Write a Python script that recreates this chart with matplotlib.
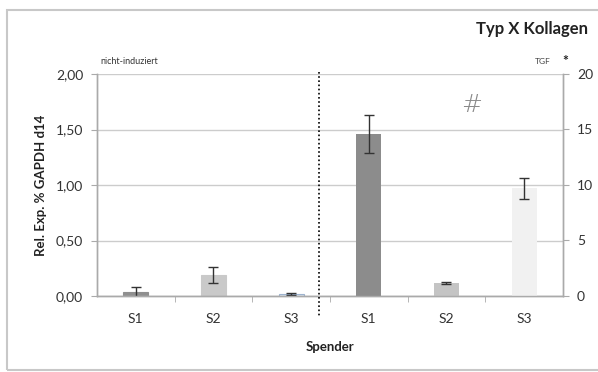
import matplotlib.pyplot as plt
from matplotlib.patches import Rectangle
from matplotlib.lines import Line2D
import numpy as np

plt.rcParams['font.family'] = ['Lato', 'DejaVu Sans']

spender = ['S1', 'S2', 'S3', 'S1', 'S2', 'S3']

# nicht-induziert (left axis, 0-2)
ni_values = [0.04, 0.19, 0.015]
ni_err = [0.045, 0.075, 0.01]
# TGF (right axis, 0-20)
tgf_values = [14.6, 1.17, 9.7]
tgf_err = [1.7, 0.1, 0.95]

left_ticks = [0, 0.5, 1.0, 1.5, 2.0]
left_labels = ['0,00', '0,50', '1,00', '1,50', '2,00']
right_ticks = [0, 5, 10, 15, 20]

ni_colors = ['#8f8f8f', '#c9c9c9', '#dfe7f1']
ni_edges = ['#8f8f8f', '#c9c9c9', '#9db3cf']
tgf_colors = ['#8c8c8c', '#c4c4c4', '#f1f1f1']

fig = plt.figure(figsize=(5.98, 3.72), dpi=100)
fig.patches.append(Rectangle((7 / 598, 2 / 372), 1.0, 360 / 372, transform=fig.transFigure,
                             fill=False, edgecolor='#c8c8c8', linewidth=1.5))

ax = fig.add_axes([97 / 598, 1 - 296 / 372, 466 / 598, 222 / 372])
ax2 = ax.twinx()

x = np.arange(6)
w = 0.32
ax.bar(x[:3], ni_values, w, color=ni_colors, edgecolor=ni_edges, linewidth=0.8, zorder=2)
ax.errorbar(x[:3], ni_values, yerr=ni_err, fmt='none', ecolor='#333333',
            elinewidth=1, capsize=3.5, capthick=1, zorder=3)
ax2.bar(x[3:], tgf_values, w, color=tgf_colors, zorder=2)
ax2.errorbar(x[3:], tgf_values, yerr=tgf_err, fmt='none', ecolor='#333333',
             elinewidth=1, capsize=3.5, capthick=1, zorder=3)

ax.set_xlim(-0.5, 5.5)
ax.set_ylim(0, 2)
ax2.set_ylim(0, 20)

ax.set_yticks(left_ticks)
ax.set_yticklabels(left_labels)
ax2.set_yticks(right_ticks)
ax.yaxis.grid(True, color='#cccccc', linewidth=1, zorder=0)
ax.set_axisbelow(True)

ax.set_xticks(x)
ax.set_xticklabels(spender)
ax.set_xticks(np.arange(0.5, 5.5, 1), minor=True)
ax.tick_params(axis='x', which='major', length=0, pad=12, labelsize=10, labelcolor='#333333')
ax.tick_params(axis='x', which='minor', length=4, color='#aaaaaa', direction='out')
ax.tick_params(axis='y', length=4, color='#aaaaaa', labelsize=10, labelcolor='#333333', pad=6)
ax2.tick_params(axis='y', length=4, color='#aaaaaa', labelsize=10, labelcolor='#333333', pad=6)

for a in (ax, ax2):
    a.spines['top'].set_visible(False)
    for s in ('left', 'right', 'bottom'):
        a.spines[s].set_color('#aaaaaa')
        a.spines[s].set_linewidth(1)
    a.patch.set_visible(False)

ax.set_ylabel('Rel. Exp. % GAPDH d14', fontsize=9.5, fontweight='bold', color='#222222', labelpad=6)
ax.set_xlabel('Spender', fontsize=9.5, fontweight='bold', color='#222222', labelpad=12)

# dotted separator between the two conditions
fig.lines.append(Line2D([319 / 598, 319 / 598], [1 - 72 / 372, 1 - 316 / 372],
                        transform=fig.transFigure, color='black', linestyle=(0, (1, 1.5)),
                        linewidth=1.2))

fig.text(588 / 598, 1 - 29 / 372, 'Typ X Kollagen', ha='right', va='center',
         fontsize=12, fontweight='bold', color='#222222')
fig.text(100 / 598, 1 - 61 / 372, 'nicht-induziert', ha='left', va='center',
         fontsize=6.5, color='#333333')
fig.text(543 / 598, 1 - 61 / 372, 'TGF', ha='center', va='center',
         fontsize=6, color='#444444')
fig.text(565 / 598, 1 - 61 / 372, '*', ha='center', va='center',
         fontsize=10, fontweight='bold', color='#222222')
fig.text(472 / 598, 1 - 105 / 372, '#', ha='center', va='center',
         fontsize=18, color='#8a8a8a', family='DejaVu Sans', fontweight='light')

fig.savefig('out.png', dpi=100)
